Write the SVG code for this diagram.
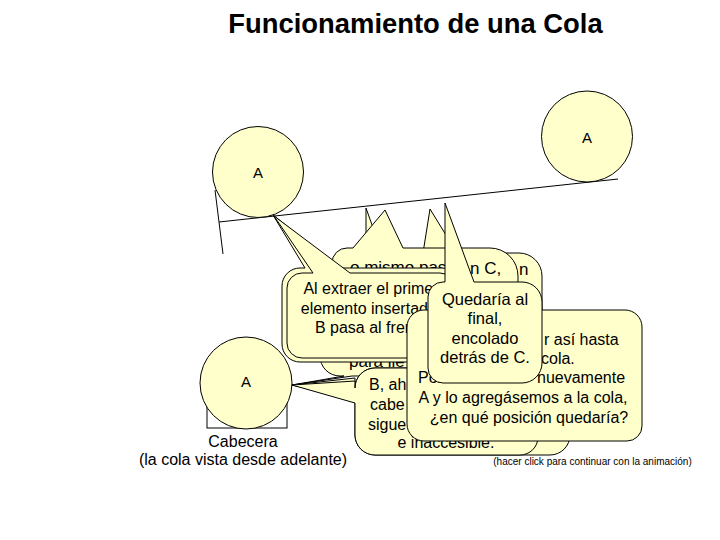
<svg xmlns="http://www.w3.org/2000/svg" width="720" height="540" viewBox="0 0 720 540">
<style>
.s{fill:#FFFFCC;stroke:#000;stroke-width:1}
.ln{fill:none;stroke:#000;stroke-width:1}
.t{font-family:"Liberation Sans",Arial,sans-serif;fill:#000}
.m{text-anchor:middle}
.f16{font-size:16px}
.f17{font-size:17px}
</style>
<rect width="720" height="540" fill="#fff"/>
<text class="t m" x="415.5" y="33" font-size="27.4" font-weight="bold">Funcionamiento de una Cola</text>

<g id="queue-outline">
<line class="ln" x1="215" y1="190" x2="223" y2="254"/>
<line class="ln" x1="219" y1="222" x2="618" y2="179"/>
</g>
<g id="node-A-top">
<circle class="s" cx="587" cy="136.5" r="45.5"/>
<text class="t m" x="587" y="143" font-size="15">A</text>
</g>
<g id="node-A-left">
<circle class="s" cx="258" cy="172" r="45.5"/>
<text class="t m" x="258" y="178" font-size="15">A</text>
</g>

<g id="callout-B">
<path class="s" d="M358,253 L366,253 L366,208 L382,253 L500,253 A20,20 0 0 1 520,273 L520,340 A20,20 0 0 1 500,360 L358,360 A20,20 0 0 1 338,340 L338,273 A20,20 0 0 1 358,253 Z"/>
</g>
<g id="callout-C">
<path class="s" d="M362,253 L423,253 L430,209 L457,253 L519,253 A23,23 0 0 1 542,276 L542,335 A25,25 0 0 1 517,360 L365,360 A25,25 0 0 1 340,335 L340,278 A25,25 0 0 1 362,253 Z"/>
<text class="t f17" x="519" y="275">n</text>
</g>
<g id="callout-A">
<path class="s" d="M347,248 L353,248 L385,210 L403,248 L490,248 A28,28 0 0 1 518,276 L518,340 A25,25 0 0 1 493,365 L357,365 A25,25 0 0 1 332,340 L332,263 A15,15 0 0 1 347,248 Z"/>
<text class="t f17" x="350" y="273">o mismo pasa</text>
<text class="t f17" x="470" y="274">n C,</text>
</g>
<g id="callout-D">
<path class="s" d="M340,292 L518,292 A20,20 0 0 1 538,312 L538,356 A20,20 0 0 1 518,376 L352,376 L292,385 L344,376 L340,376 A20,20 0 0 1 320,356 L320,312 A20,20 0 0 1 340,292 Z"/>
<text class="t f17" x="349" y="367">para lle</text>
</g>
<g id="callout-extraer-1">
<path class="s" d="M300,268 L305,268 L273,215 L340,268 L442,268 A18,18 0 0 1 460,286 L460,344 A18,18 0 0 1 442,362 L300,362 A18,18 0 0 1 282,344 L282,286 A18,18 0 0 1 300,268 Z"/>
</g>
<g id="callout-extraer-2">
<path class="s" d="M302,273 L313,273 L274,216 L350,273 L440,273 A15,15 0 0 1 455,288 L455,343 A15,15 0 0 1 440,358 L302,358 A15,15 0 0 1 287,343 L287,288 A15,15 0 0 1 302,273 Z"/>
<text class="t m f16" x="371" y="294">Al extraer el primer</text>
<text class="t m f16" x="371" y="314">elemento insertado,</text>
<text class="t m f16" x="371" y="333">B pasa al frente</text>
</g>
<g id="callout-F-back">
<path class="s" d="M375,368 L550,368 A20,20 0 0 1 570,388 L570,435 A20,20 0 0 1 550,455 L375,455 A20,20 0 0 1 355,435 L355,400 L292,385 L355,378 L355,388 A20,20 0 0 1 375,368 Z"/>
</g>
<g id="callout-F">
<path class="s" d="M375,368 L520,368 A18,18 0 0 1 538,386 L538,437 A18,18 0 0 1 520,455 L375,455 A20,20 0 0 1 355,435 L355,403 L292,385 L355,381 L355,388 A20,20 0 0 1 375,368 Z"/>
<text class="t f16" x="369" y="390">B, ah</text>
<text class="t f16" x="370" y="410">cabe</text>
<text class="t f16" x="368" y="430">sigue</text>
<text class="t m f16" x="446" y="448">e inaccesible.</text>
</g>
<g id="callout-E">
<path class="s" d="M424,310 L625,310 A17,17 0 0 1 642,327 L642,426 A15,15 0 0 1 627,441 L424,441 A17,17 0 0 1 407,424 L407,327 A17,17 0 0 1 424,310 Z"/>
<text class="t f16" x="544" y="345">r así hasta</text>
<text class="t f16" x="541" y="364">cola.</text>
<text class="t f16" x="418" y="383">Por</text>
<text class="t f16" x="537" y="383">nuevamente</text>
<text class="t m f16" x="523" y="403">A y lo agregásemos a la cola,</text>
<text class="t m f16" x="529" y="423">¿en qué posición quedaría?</text>
</g>
<g id="callout-Quedaria">
<path class="s" d="M445,282 L445,203 L474,282 L522,282 A20,20 0 0 1 542,302 L542,363 A20,20 0 0 1 522,383 L443,383 A15,15 0 0 1 428,368 L428,297 A15,15 0 0 1 443,282 Z"/>
<text class="t m" x="485" y="305" font-size="16.5">Quedaría al</text>
<text class="t m" x="485" y="324" font-size="16.5">final,</text>
<text class="t m" x="485" y="344" font-size="16.5">encolado</text>
<text class="t m" x="485" y="363" font-size="16.5">detrás de C.</text>
</g>

<g id="node-A-front">
<rect class="ln" x="207" y="390" width="80" height="38"/>
<circle class="s" cx="246" cy="383" r="46"/>
<text class="t m" x="246" y="387" font-size="15">A</text>
</g>
<text class="t m" x="243" y="447" font-size="16">Cabecera</text>
<text class="t m" x="243" y="465" font-size="16">(la cola vista desde adelante)</text>
<text class="t m" x="592.5" y="465" font-size="10">(hacer click para continuar con la animación)</text>
</svg>
